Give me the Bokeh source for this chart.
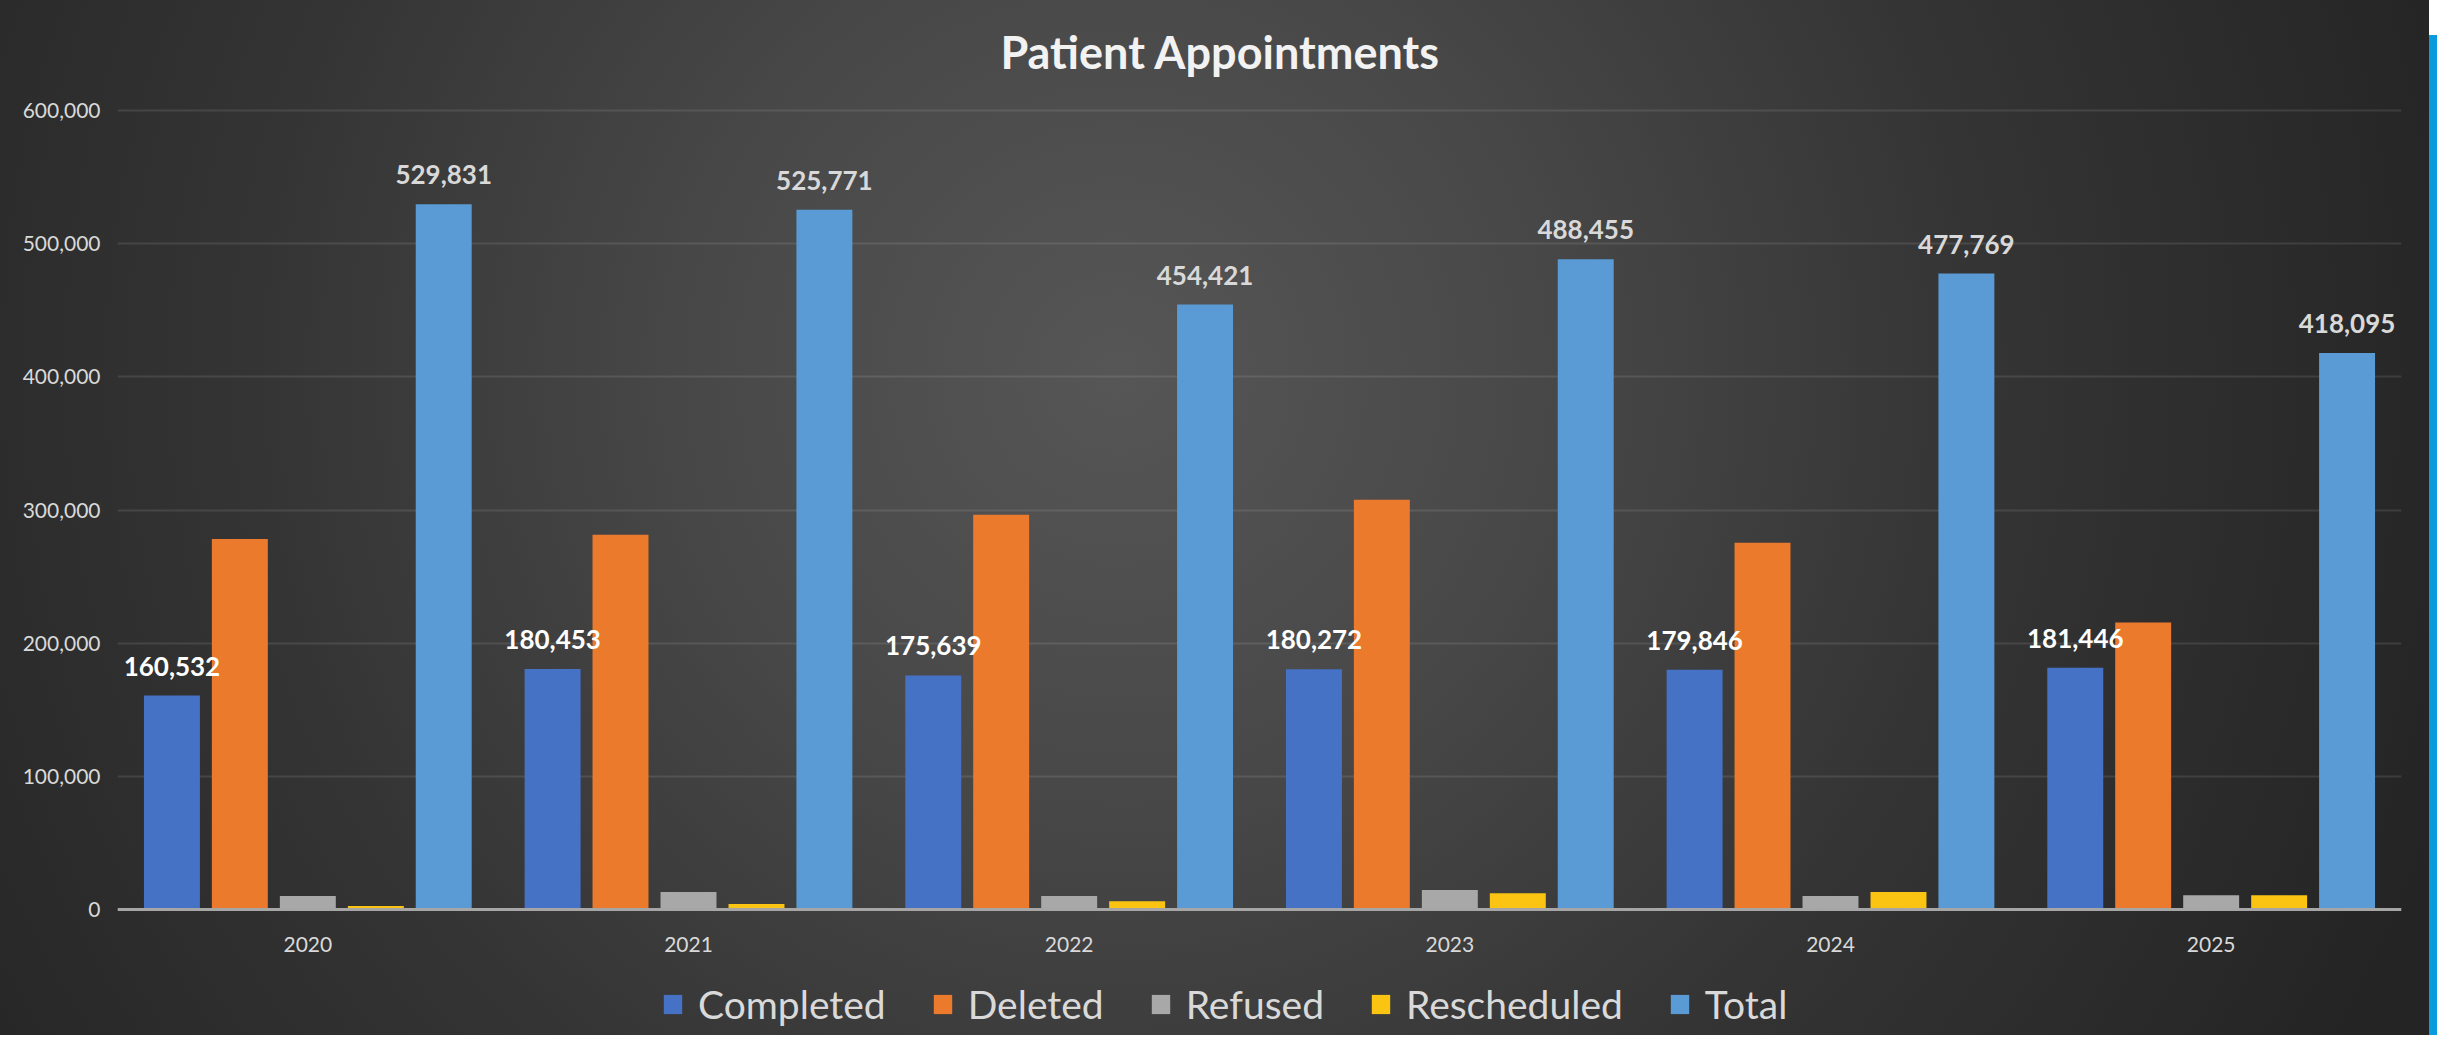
from bokeh.plotting import figure
from bokeh.models import (ColumnDataSource, FactorRange, LabelSet, Legend, LegendItem,
                          NumeralTickFormatter, Div, FixedTicker, Label)
from bokeh.transform import dodge
from bokeh.layouts import row
from bokeh.core.properties import value
from bokeh.embed import file_html
from bokeh.resources import INLINE

# ---- data ----
title_text = "Patient Appointments"
years = ["2020", "2021", "2022", "2023", "2024", "2025"]
completed = [160532, 180453, 175639, 180272, 179846, 181446]
deleted = [278300, 281400, 296400, 307700, 275400, 215500]
refused = [9800, 12800, 9800, 14300, 9800, 10500]
rescheduled = [2300, 3800, 6000, 12000, 12800, 10500]
total = [529831, 525771, 454421, 488455, 477769, 418095]
series_names = ["Completed", "Deleted", "Refused", "Rescheduled", "Total"]
y_ticks = [0, 100000, 200000, 300000, 400000, 500000, 600000]

colors = ["#4672c6", "#ec7a2c", "#a8a8a8", "#fcc412", "#5a9ad5"]
offsets = [-0.357, -0.1786, 0.0, 0.1786, 0.357]
bar_w = 0.147

src = ColumnDataSource(dict(
    year=years, Completed=completed, Deleted=deleted, Refused=refused,
    Rescheduled=rescheduled, Total=total,
    completed_lbl=[f"{v:,}" for v in completed],
    total_lbl=[f"{v:,}" for v in total],
))

FONT = "Lato"
TXT = "#d9d9d9"
H = 1035

# the frame fills the whole height; the 0..600,000 band sits inside it
p = figure(
    x_range=FactorRange(*years), y_range=(-95000, 683000),
    width=2429, height=H,
    output_backend="svg", toolbar_location=None,
    min_border_left=117, min_border_right=28,
    min_border_top=0, min_border_bottom=0,
)
p.x_range.range_padding = 0
p.background_fill_color = None
p.border_fill_color = None
p.outline_line_color = None
p.styles = {
    "background": "radial-gradient(circle 1400px at 46% 36%, #565656 0%, #484848 30%, #343434 62%, #242424 100%)",
}

p.add_layout(Label(x=1103, y=H - 51, x_units="screen", y_units="screen",
                   text=title_text, text_align="center", text_baseline="alphabetic",
                   text_font=FONT, text_font_size="45px", text_font_style="bold",
                   text_color="#f2f2f2"))

renderers = []
for name, col, off in zip(series_names, colors, offsets):
    r = p.vbar(x=dodge("year", off, range=p.x_range), top=name, bottom=0, width=bar_w,
               source=src, fill_color=col, line_color=None)
    renderers.append(r)

labels_c = LabelSet(x=dodge("year", offsets[0], range=p.x_range), y="Completed",
                    text="completed_lbl", source=src, text_align="center",
                    text_baseline="alphabetic", y_offset=20,
                    text_font=value(FONT), text_font_style="bold",
                    text_font_size="26px", text_color="#ffffff")
labels_t = LabelSet(x=dodge("year", offsets[4], range=p.x_range), y="Total",
                    text="total_lbl", source=src, text_align="center",
                    text_baseline="alphabetic", y_offset=20,
                    text_font=value(FONT), text_font_style="bold",
                    text_font_size="26px", text_color=TXT)
p.add_layout(labels_c)
p.add_layout(labels_t)

# axes
p.yaxis.ticker = FixedTicker(ticks=y_ticks)
p.yaxis.formatter = NumeralTickFormatter(format="0,0")
p.yaxis.axis_line_color = None
p.yaxis.major_tick_line_color = None
p.yaxis.minor_tick_line_color = None
p.yaxis.major_label_text_font = FONT
p.yaxis.major_label_text_font_size = "21px"
p.yaxis.major_label_text_color = TXT
p.yaxis.major_label_standoff = 11

p.xaxis.fixed_location = 0
p.xaxis.axis_line_color = "#a6a6a6"
p.xaxis.axis_line_width = 3
p.xaxis.major_tick_line_color = None
p.xaxis.minor_tick_line_color = None
p.xaxis.major_label_text_font = FONT
p.xaxis.major_label_text_font_size = "21px"
p.xaxis.major_label_text_color = TXT
p.xaxis.major_label_standoff = 22

p.xgrid.grid_line_color = None
p.ygrid.grid_line_color = "#ffffff"
p.ygrid.grid_line_alpha = 0.1
p.ygrid.grid_line_width = 2

legend = Legend(
    items=[LegendItem(label=n, renderers=[r]) for n, r in zip(series_names, renderers)],
    orientation="horizontal", location=(544, 8),
    glyph_width=23, glyph_height=24, label_standoff=14, spacing=45,
    label_text_font=FONT, label_text_font_size="39px", label_text_color=TXT,
    background_fill_alpha=0, border_line_color=None, padding=0, margin=0,
)
p.add_layout(legend, "center")

stripe = Div(width=8, height=1000, margin=(35, 0, 0, 0),
             styles={"background-color": "#0a9ade"})

layout = row(p, stripe, spacing=0)

open("out.html", "w").write(file_html(layout, INLINE))
